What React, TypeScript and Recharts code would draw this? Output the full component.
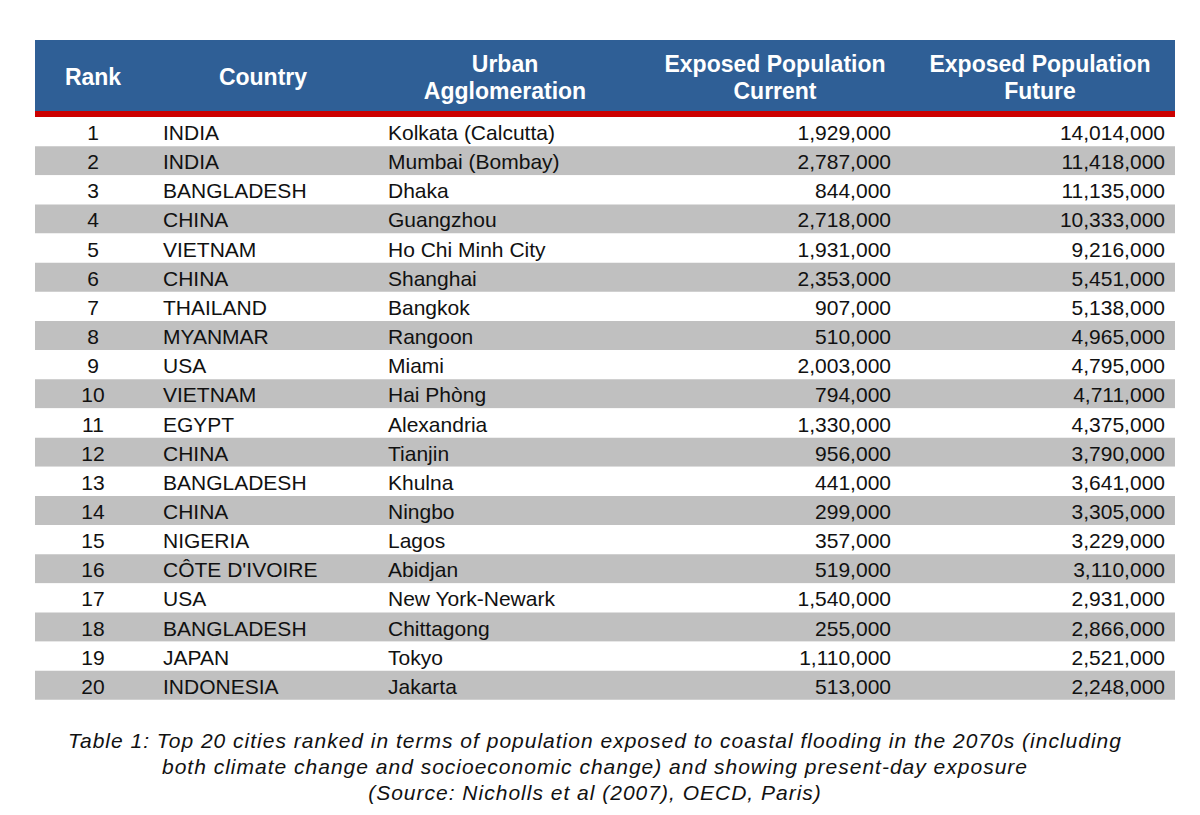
import { BarChart, Bar, XAxis, YAxis, Cell, LabelList } from 'recharts'

const RANKS = [1, 2, 3, 4, 5, 6, 7, 8, 9, 10, 11, 12, 13, 14, 15, 16, 17, 18, 19, 20]
const COUNTRIES = [
  'INDIA', 'INDIA', 'BANGLADESH', 'CHINA', 'VIETNAM', 'CHINA', 'THAILAND', 'MYANMAR', 'USA', 'VIETNAM',
  'EGYPT', 'CHINA', 'BANGLADESH', 'CHINA', 'NIGERIA', "CÔTE D'IVOIRE", 'USA', 'BANGLADESH', 'JAPAN', 'INDONESIA',
]
const CITIES = [
  'Kolkata (Calcutta)', 'Mumbai (Bombay)', 'Dhaka', 'Guangzhou', 'Ho Chi Minh City', 'Shanghai', 'Bangkok',
  'Rangoon', 'Miami', 'Hai Phòng', 'Alexandria', 'Tianjin', 'Khulna', 'Ningbo', 'Lagos', 'Abidjan',
  'New York-Newark', 'Chittagong', 'Tokyo', 'Jakarta',
]
const CURRENT = [
  1929000, 2787000, 844000, 2718000, 1931000, 2353000, 907000, 510000, 2003000, 794000,
  1330000, 956000, 441000, 299000, 357000, 519000, 1540000, 255000, 1110000, 513000,
]
const FUTURE = [
  14014000, 11418000, 11135000, 10333000, 9216000, 5451000, 5138000, 4965000, 4795000, 4711000,
  4375000, 3790000, 3641000, 3305000, 3229000, 3110000, 2931000, 2866000, 2521000, 2248000,
]

const CAPTION = [
  'Table 1: Top 20 cities ranked in terms of population exposed to coastal flooding in the 2070s (including',
  'both climate change and socioeconomic change) and showing present-day exposure',
  '(Source: Nicholls et al (2007), OECD, Paris)',
]

const FONT = '"Liberation Sans", Arial, sans-serif'

const rows = RANKS.map((rank, i) => ({
  rank: String(rank),
  country: COUNTRIES[i],
  city: CITIES[i],
  current: CURRENT[i].toLocaleString('en-US'),
  future: FUTURE[i].toLocaleString('en-US'),
  band: 1,
}))

// column text placement, offset from the table's left edge
const COLUMNS: { key: string; dx: number; anchor: 'start' | 'middle' | 'end' }[] = [
  { key: 'rank', dx: 58, anchor: 'middle' },
  { key: 'country', dx: 128, anchor: 'start' },
  { key: 'city', dx: 353, anchor: 'start' },
  { key: 'current', dx: 856, anchor: 'end' },
  { key: 'future', dx: 1130, anchor: 'end' },
]

const HEADERS = [
  { lines: ['Rank'], center: 93 },
  { lines: ['Country'], center: 263 },
  { lines: ['Urban', 'Agglomeration'], center: 505 },
  { lines: ['Exposed Population', 'Current'], center: 775 },
  { lines: ['Exposed Population', 'Future'], center: 1040 },
]

function cellText(dx: number, anchor: string) {
  return (props: any) => {
    const { x, y, height, value } = props
    return (
      <text
        x={Number(x) + dx}
        y={Number(y) + Number(height) / 2 + 1}
        textAnchor={anchor}
        dominantBaseline="central"
        fontFamily={FONT}
        fontSize={21}
        fill="#111"
      >
        {value}
      </text>
    )
  }
}

export default function App() {
  return (
    <div style={{ position: 'absolute', left: 0, top: 0, width: 1200, height: 815, background: '#fff' }}>
      <div style={{ position: 'absolute', left: 35, top: 40, width: 1140, height: 71, background: '#2f5f96' }} />
      <div style={{ position: 'absolute', left: 35, top: 111, width: 1140, height: 6, background: '#cc0000' }} />
      {HEADERS.map((h) => (
        <div
          key={h.lines.join(' ')}
          style={{
            position: 'absolute',
            left: h.center - 140,
            width: 280,
            top: h.lines.length === 1 ? 64 : 51,
            textAlign: 'center',
            color: '#fff',
            fontFamily: FONT,
            fontWeight: 'bold',
            fontSize: 23,
            lineHeight: '27px',
          }}
        >
          {h.lines.map((l) => (
            <div key={l}>{l}</div>
          ))}
        </div>
      ))}
      <div style={{ position: 'absolute', left: 0, top: 0 }}>
        <BarChart
          width={1200}
          height={815}
          data={rows}
          layout="vertical"
          margin={{ top: 117, right: 25, bottom: 115, left: 35 }}
          barCategoryGap={0}
        >
          <XAxis type="number" domain={[0, 1]} hide />
          <YAxis type="category" dataKey="rank" hide />
          <Bar dataKey="band" isAnimationActive={false}>
            {rows.map((r, i) => (
              <Cell key={r.rank} fill={i % 2 === 1 ? '#c0c0c0' : '#ffffff'} />
            ))}
            {COLUMNS.map((c) => (
              <LabelList key={c.key} dataKey={c.key} content={cellText(c.dx, c.anchor)} />
            ))}
          </Bar>
        </BarChart>
      </div>
      <div
        style={{
          position: 'absolute',
          left: 0,
          width: 1190,
          top: 728,
          textAlign: 'center',
          fontFamily: FONT,
          fontStyle: 'italic',
          fontSize: 21,
          letterSpacing: 1,
          lineHeight: '26px',
          color: '#111',
        }}
      >
        {CAPTION.map((l) => (
          <div key={l}>{l}</div>
        ))}
      </div>
    </div>
  )
}
